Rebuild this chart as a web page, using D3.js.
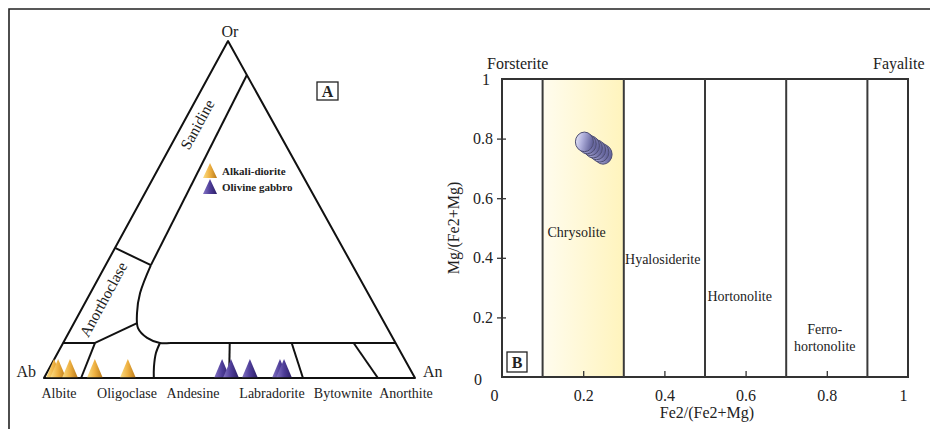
<!DOCTYPE html>
<html><head><meta charset="utf-8">
<script src="https://cdn.jsdelivr.net/npm/d3@7"></script>
<style>
body{margin:0;background:#fff}
svg{display:block}
text{font-family:"Liberation Serif","Times New Roman",serif;fill:#222}
</style>
</head><body><svg id="c" width="930" height="429"></svg>
<script>
// ---------------- DATA ----------------
// Panel A: feldspar ternary (An fraction, Or fraction)
const plagNames = ["Albite","Oligoclase","Andesine","Labradorite","Bytownite","Anorthite"];
const alkaliDioriteAn = [0.027, 0.038, 0.070, 0.137, 0.226];
const alkaliDioriteOr = [0, 0, 0, 0, 0];
const olivineGabbroAn = [0.480, 0.504, 0.555, 0.636, 0.647];
const olivineGabbroOr = [0, 0, 0, 0, 0];
const legendNames = ["Alkali-diorite", "Olivine gabbro"];
// field boundaries, as [An, Or] compositions
const sanidineLine = [[0.101, 0.899], [0.122, 0.335]];
const sanAnorthLine = [[0.0, 0.386], [0.122, 0.335]];
const plagCurve = [[0.122, 0.335], [0.134, 0.252], [0.155, 0.193], [0.180, 0.148], [0.219, 0.119], [0.261, 0.104], [0.288, 0.104]];
const plagTopRight = [[0.288, 0.104], [0.896, 0.104]];
const plagTopLeft = [[0.0, 0.104], [0.086, 0.104]];
const anorthPlagLine = [[0.086, 0.104], [0.170, 0.163]];
const plagDividers = [
  [[0.086, 0.104], [0.10, 0]],
  [[0.261, 0.104], [0.265, 0.074], [0.280, 0.033], [0.296, 0]],
  [[0.449, 0.104], [0.499, 0]],
  [[0.616, 0.104], [0.698, 0]],
  [[0.783, 0.104], [0.900, 0]]
];
// Panel B: olivine Fe2/(Fe2+Mg) vs Mg/(Fe2+Mg)
const olivineFields = ["Chrysolite", "Hyalosiderite", "Hortonolite", "Ferro-", "hortonolite"];
const olivineBounds = [0.1, 0.3, 0.5, 0.7, 0.9];
const olFe = [0.249, 0.241, 0.233, 0.225, 0.218, 0.210, 0.203];
const olMg = [0.747, 0.754, 0.762, 0.768, 0.776, 0.782, 0.789];
const xTicks = [0, 0.2, 0.4, 0.6, 0.8, 1];
const yTicks = [0, 0.2, 0.4, 0.6, 0.8, 1];

// ---------------- DRAW ----------------
const svg = d3.select("#c");
const defs = svg.append("defs");
function lg(id, stops, x2 = 1, y2 = 0) {
  const g = defs.append("linearGradient").attr("id", id).attr("x1", 0).attr("y1", 0).attr("x2", x2).attr("y2", y2);
  stops.forEach(s => g.append("stop").attr("offset", s[0]).attr("stop-color", s[1]));
}
lg("gOr", [[0, "#fbdf88"], [0.5, "#eeb040"], [1, "#b8791a"]]);
lg("gPu", [[0, "#8676c6"], [0.5, "#4e3d98"], [1, "#2c1f66"]]);
lg("gChr", [[0, "#fffcee"], [1, "#fff4bd"]]);
lg("gDisk", [[0, "#f0f0fb"], [0.45, "#b0b0dc"], [1, "#64649c"]], 1, 0.25);

// outer frame
svg.append("path").attr("d", "M9,429 V9 H930").attr("fill", "none").attr("stroke", "#222").attr("stroke-width", 1.6);

// ----- Panel A -----
const V = {ab: [44, 378], an: [415, 378], or: [228, 41]};
const anX = d3.scaleLinear().domain([0, 1]).range([V.ab[0], V.an[0]]);
const orDX = d3.scaleLinear().domain([0, 1]).range([0, V.or[0] - V.ab[0]]);
const orY = d3.scaleLinear().domain([0, 1]).range([V.ab[1], V.or[1]]);
const P = (an, or) => [anX(an) + orDX(or), orY(or)];
const tern = d3.line().x(d => P(d[0], d[1])[0]).y(d => P(d[0], d[1])[1]);
const ternC = d3.line().x(d => P(d[0], d[1])[0]).y(d => P(d[0], d[1])[1]).curve(d3.curveCatmullRom.alpha(0.5));
const A = svg.append("g");
const lineStyle = s => s.attr("fill", "none").attr("stroke", "#111").attr("stroke-width", 2).attr("stroke-linejoin", "round");

A.append("path").attr("d", tern([[0, 0], [1, 0], [0, 1], [0, 0]]) + "Z").call(lineStyle);
A.append("path").attr("d", tern(sanidineLine)).call(lineStyle);
A.append("path").attr("d", tern(sanAnorthLine)).call(lineStyle);
A.append("path").attr("d", ternC(plagCurve)).call(lineStyle);
A.append("path").attr("d", tern(plagTopRight)).call(lineStyle);
A.append("path").attr("d", tern(plagTopLeft)).call(lineStyle);
A.append("path").attr("d", tern(anorthPlagLine)).call(lineStyle);
plagDividers.forEach(d => {
  A.append("path").attr("d", d.length > 2 ? ternC(d) : tern(d)).call(lineStyle);
});

// vertex labels
A.append("text").attr("x", V.or[0] + 2).attr("y", V.or[1] - 4).attr("text-anchor", "middle").style("font-size", "16px").text("Or");
A.append("text").attr("x", V.ab[0] - 8).attr("y", V.ab[1] - 1).attr("text-anchor", "end").style("font-size", "16px").text("Ab");
A.append("text").attr("x", V.an[0] + 8).attr("y", V.an[1] - 1).attr("text-anchor", "start").style("font-size", "16px").text("An");

// plagioclase names
const plagLabelX = [59, 127, 193, 272, 343, 406];
plagNames.forEach((n, i) => {
  A.append("text").attr("x", plagLabelX[i]).attr("y", 398).attr("text-anchor", "middle").style("font-size", "14px").text(n);
});
// rotated names
const ang = Math.atan2(V.or[1] - V.ab[1], V.or[0] - V.ab[0]) * 180 / Math.PI;
A.append("text").attr("transform", `translate(202,127) rotate(${ang})`).attr("text-anchor", "middle").style("font-size", "15.5px").text("Sanidine");
A.append("text").attr("transform", `translate(108,302) rotate(${ang})`).attr("text-anchor", "middle").style("font-size", "15.5px").text("Anorthoclase");

// A box
A.append("rect").attr("x", 317).attr("y", 82).attr("width", 21).attr("height", 18).attr("fill", "#fff").attr("stroke", "#222").attr("stroke-width", 1.3);
A.append("text").attr("x", 327.5).attr("y", 97).attr("text-anchor", "middle").style("font-size", "16px").style("font-weight", "bold").text("A");

// triangles
const tri = (w, h) => `M0,0 L${w / 2},${-h} L${w},0 Z`;
function drawTris(anArr, orArr, fill) {
  anArr.forEach((an, i) => {
    const p = P(an, orArr[i]);
    A.append("path").attr("d", tri(16, 19)).attr("transform", `translate(${p[0] - 8},${p[1]})`).attr("fill", fill);
  });
}
drawTris(alkaliDioriteAn, alkaliDioriteOr, "url(#gOr)");
drawTris(olivineGabbroAn, olivineGabbroOr, "url(#gPu)");
// re-draw base line over triangles
A.append("path").attr("d", tern([[0, 0], [1, 0]])).call(lineStyle).attr("stroke-width", 1.6);

// legend
const legFill = ["url(#gOr)", "url(#gPu)"];
legendNames.forEach((n, i) => {
  const y = 178 + i * 16;
  A.append("path").attr("d", tri(14, 15)).attr("transform", `translate(203,${y})`).attr("fill", legFill[i]);
  A.append("text").attr("x", 222).attr("y", y - 3).style("font-size", "11px").style("font-weight", "bold").text(n);
});

// ----- Panel B -----
const B = svg.append("g");
const x = d3.scaleLinear().domain([0, 1]).range([502, 908]);
const y = d3.scaleLinear().domain([0, 1]).range([377, 79]);

B.append("rect").attr("x", x(olivineBounds[0])).attr("y", y(1)).attr("width", x(olivineBounds[1]) - x(olivineBounds[0])).attr("height", y(0) - y(1)).attr("fill", "url(#gChr)");
B.append("rect").attr("x", x(0)).attr("y", y(1)).attr("width", x(1) - x(0)).attr("height", y(0) - y(1)).attr("fill", "none").attr("stroke", "#333").attr("stroke-width", 2);
olivineBounds.forEach(b => {
  B.append("line").attr("x1", x(b)).attr("x2", x(b)).attr("y1", y(0)).attr("y2", y(1)).attr("stroke", "#3a3a3a").attr("stroke-width", 2);
});

// axes
const xa = B.append("g").attr("transform", `translate(0,${y(0)})`).call(d3.axisBottom(x).tickValues(xTicks).tickFormat(d3.format("~g")).tickSize(0).tickPadding(13));
const ya = B.append("g").attr("transform", `translate(${x(0)},0)`).call(d3.axisLeft(y).tickValues(yTicks).tickFormat(d3.format("~g")).tickSize(0).tickPadding(9));
[xa, ya].forEach(g => {
  g.select(".domain").remove();
  g.selectAll("text").style("font-family", '"Liberation Serif",serif').style("font-size", "16px").attr("fill", "#222");
});
xa.selectAll(".tick").filter(d => d > 0 && d < 1).append("line").attr("y1", -6).attr("y2", 1).attr("stroke", "#333").attr("stroke-width", 1.3);
ya.selectAll(".tick").filter(d => d > 0 && d < 1).append("line").attr("x1", -5).attr("x2", 4).attr("stroke", "#333").attr("stroke-width", 1.3);
xa.selectAll(".tick").filter(d => d === 1).select("text").attr("dx", -5);
ya.selectAll(".tick").filter(d => d === 0).select("text").attr("dx", -11).attr("dy", "0.45em");
ya.selectAll(".tick").filter(d => d === 1).select("text").attr("dx", -3);
xa.selectAll(".tick").filter(d => d === 0).select("text").attr("dx", -8);

B.append("text").attr("x", 707).attr("y", 418).attr("text-anchor", "middle").style("font-size", "16px").text("Fe2/(Fe2+Mg)");
B.append("text").attr("transform", `translate(459,${(y(0) + y(1)) / 2}) rotate(-90)`).attr("text-anchor", "middle").style("font-size", "16px").text("Mg/(Fe2+Mg)");
B.append("text").attr("x", 487).attr("y", 69).style("font-size", "16px").text("Forsterite");
B.append("text").attr("x", 873).attr("y", 69).style("font-size", "16px").text("Fayalite");

// field names
const fieldPos = [[0.112, 0.47, "start"], [0.303, 0.38, "start"], [0.506, 0.255, "start"], [0.795, 0.145, "middle"], [0.795, 0.088, "middle"]];
olivineFields.forEach((n, i) => {
  B.append("text").attr("x", x(fieldPos[i][0])).attr("y", y(fieldPos[i][1])).attr("text-anchor", fieldPos[i][2]).style("font-size", "14px").text(n);
});

// B box
B.append("rect").attr("x", 507).attr("y", 352).attr("width", 20).attr("height", 20).attr("fill", "#fff").attr("stroke", "#222").attr("stroke-width", 1.3);
B.append("text").attr("x", 517).attr("y", 368).attr("text-anchor", "middle").style("font-size", "16px").style("font-weight", "bold").text("B");

// olivine analyses (back to front)
olFe.forEach((fe, i) => {
  B.append("ellipse").attr("cx", x(fe)).attr("cy", y(olMg[i])).attr("rx", 9).attr("ry", 9.8)
    .attr("fill", "url(#gDisk)").attr("stroke", "#4d4d72").attr("stroke-width", 1);
});
</script>
</body></html>
